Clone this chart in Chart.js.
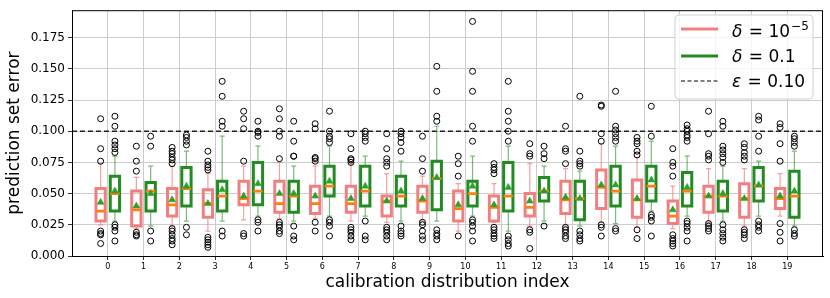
<!DOCTYPE html>
<html>
<head>
<meta charset="utf-8">
<script src="https://cdn.jsdelivr.net/npm/chart.js@4.4.0/dist/chart.umd.min.js"></script>
<style>
  html, body { margin: 0; padding: 0; background: #fff; }
  #wrap { width: 830px; height: 298px; position: relative; }
</style>
</head>
<body>
<div id="wrap"><canvas id="chart"></canvas></div>
<script>
const cats = [0, 1, 2, 3, 4, 5, 6, 7, 8, 9, 10, 11, 12, 13, 14, 15, 16, 17, 18, 19];
const yTicks = [0, 0.025, 0.05, 0.075, 0.1, 0.125, 0.15, 0.175];
const epsilon = 0.1;

// delta = 1e-5 (salmon)
const aQ1   = [.028, .024, .032, .031, .041, .035, .034, .035, .032, .035, .028, .028, .032, .034, .038, .031, .026, .035, .031, .038];
const aMed  = [.036, .037, .041, .042, .046, .042, .042, .042, .044, .044, .038, .039, .039, .045, .055, .045, .032, .048, .046, .046];
const aQ3   = [.054, .052, .054, .053, .060, .060, .056, .056, .048, .056, .052, .048, .050, .060, .069, .061, .044, .056, .058, .054];
const aLo   = [.025, .022, .024, .020, .029, .030, .030, .028, .027, .028, .020, .027, .024, .024, .027, .023, .022, .027, .024, .032];
const aHi   = [.074, .063, .072, .066, .072, .075, .072, .074, .066, .064, .058, .058, .074, .070, .090, .079, .056, .070, .070, .066];
const aMean = [.043, .040, .045, .042, .048, .050, .048, .046, .044, .046, .041, .041, .044, .047, .057, .046, .037, .048, .046, .048];
const aOut = [
  [.110, .086, .076, .020, .018, .017, .010],
  [.088, .076, .068, .019, .017, .016],
  [.087, .084, .082, .079, .077, .074, .022, .020, .017, .014, .012, .009],
  [.084, .076, .073, .071, .069, .015, .013, .011, .009, .007],
  [.116, .110, .102, .076, .018, .016],
  [.118, .110, .100, .096, .078, .027, .025, .023, .020, .018],
  [.106, .102, .079, .078, .076, .027, .020],
  [.098, .086, .078, .077, .075, .023, .021, .019, .016, .013],
  [.098, .086, .078, .075, .072, .023, .021, .019, .016, .013],
  [.096, .078, .068, .027, .025, .020, .016, .013],
  [.080, .074, .064, .016],
  [.074, .071, .069, .066, .023, .021, .018, .016, .014],
  [.090, .082, .080, .021, .019, .006],
  [.104, .086, .084, .074, .023, .021, .019, .016, .014],
  [.121, .120, .098, .092, .025, .023, .016],
  [.095, .092, .090, .084, .081, .021, .014],
  [.086, .075, .072, .064, .017, .014, .012, .010, .008],
  [.116, .098, .082, .080, .077, .026, .024, .022, .020],
  [.090, .087, .083, .080, .077, .021, .019, .017, .014],
  [.106, .103, .090, .076, .026, .019, .012]
];

// delta = 0.1 (green)
const bQ1   = [.036, .036, .040, .036, .041, .035, .048, .040, .040, .037, .040, .036, .044, .029, .040, .044, .040, .036, .044, .031];
const bMed  = [.050, .052, .054, .048, .052, .048, .056, .052, .048, .062, .050, .048, .052, .046, .052, .056, .052, .048, .056, .048];
const bQ3   = [.064, .059, .071, .060, .075, .060, .072, .072, .064, .076, .060, .075, .063, .060, .072, .072, .067, .060, .071, .068];
const bLo   = [.028, .024, .028, .028, .032, .028, .032, .032, .028, .028, .032, .020, .028, .024, .026, .036, .032, .028, .032, .024];
const bHi   = [.080, .072, .084, .096, .088, .072, .088, .080, .076, .104, .080, .088, .072, .068, .088, .092, .080, .072, .076, .084];
const bMean = [.052, .050, .056, .053, .058, .050, .060, .056, .052, .063, .056, .055, .052, .046, .057, .061, .055, .050, .057, .052];
const bOut = [
  [.112, .104, .092, .089, .086, .083, .025, .023, .020, .012],
  [.096, .088, .020, .012],
  [.097, .095, .092, .089, .023, .017],
  [.140, .128, .108, .104, .020, .016],
  [.108, .100, .099, .096, .029, .027, .020],
  [.108, .092, .080, .080, .024, .016, .013],
  [.116, .100, .096, .094, .091, .029, .027, .024, .016],
  [.100, .098, .095, .092, .028, .016, .013],
  [.100, .098, .095, .091, .084, .024, .020, .018, .016],
  [.152, .132, .112, .108, .021, .018, .016, .013],
  [.188, .148, .132, .104, .092, .029, .027, .024, .020, .012],
  [.140, .116, .108, .100, .092, .016, .013, .010, .008],
  [.088, .082, .078, .024],
  [.128, .084, .076, .074, .072, .020, .017, .014, .012],
  [.132, .104, .101, .098, .095, .092, .022, .020],
  [.120, .096, .033, .031, .028, .016],
  [.105, .102, .100, .097, .095, .092, .028, .026, .023, .020, .012],
  [.108, .104, .088, .085, .082, .079, .075, .025, .021, .018, .015, .012],
  [.112, .109, .096, .084, .028, .025, .023, .020],
  [.096, .094, .091, .088, .021, .018, .016]
];

const SALMON = '#f08080';
const GREEN = '#228b22';
const HALF = 0.13, CAP = 0.07, OFF = 0.2;

function boxPts(q1, q3, shift) {
  const pts = [];
  cats.forEach((c, i) => {
    const x = c + shift;
    pts.push({x: x - HALF, y: q1[i]}, {x: x + HALF, y: q1[i]}, {x: x + HALF, y: q3[i]},
             {x: x - HALF, y: q3[i]}, {x: x - HALF, y: q1[i]}, {x: x + HALF, y: q1[i]},
             {x: x, y: null});
  });
  return pts;
}

function whiskerPts(q1, q3, lo, hi, shift) {
  const pts = [];
  cats.forEach((c, i) => {
    const x = c + shift;
    pts.push({x, y: q3[i]}, {x, y: hi[i]}, {x, y: null},
             {x: x - CAP, y: hi[i]}, {x: x + CAP, y: hi[i]}, {x, y: null},
             {x, y: q1[i]}, {x, y: lo[i]}, {x, y: null},
             {x: x - CAP, y: lo[i]}, {x: x + CAP, y: lo[i]}, {x, y: null});
  });
  return pts;
}

function medianPts(med, shift) {
  const pts = [];
  cats.forEach((c, i) => {
    const x = c + shift;
    pts.push({x: x - HALF, y: med[i]}, {x: x + HALF, y: med[i]}, {x, y: null});
  });
  return pts;
}

const meanPts = (m, shift) => cats.map((c, i) => ({x: c + shift, y: m[i]}));
const outPts = (o, shift) => cats.flatMap((c, i) => o[i].map(v => ({x: c + shift, y: v})));

const lineDs = (data, color, width) => ({
  type: 'scatter', data, showLine: true, borderColor: color, borderWidth: width,
  pointRadius: 0, spanGaps: false, borderJoinStyle: 'miter', fill: false
});

// frame + in-axes legend
const extras = {
  id: 'extras',
  afterDraw(chart) {
    const ctx = chart.ctx;
    const a = chart.chartArea;
    ctx.save();
    ctx.strokeStyle = '#000';
    ctx.lineWidth = 1;
    ctx.strokeRect(a.left + 0.5, a.top + 0.5, a.right - a.left - 1, a.bottom - a.top);

    // legend box
    const L = 675, T = 15, R = 813, B = 99, r = 4;
    ctx.beginPath();
    ctx.moveTo(L + r, T); ctx.lineTo(R - r, T); ctx.quadraticCurveTo(R, T, R, T + r);
    ctx.lineTo(R, B - r); ctx.quadraticCurveTo(R, B, R - r, B);
    ctx.lineTo(L + r, B); ctx.quadraticCurveTo(L, B, L, B - r);
    ctx.lineTo(L, T + r); ctx.quadraticCurveTo(L, T, L + r, T);
    ctx.closePath();
    ctx.fillStyle = 'rgba(255,255,255,0.8)';
    ctx.fill();
    ctx.strokeStyle = '#d0d0d0';
    ctx.stroke();

    const rows = [29, 56, 81];
    ctx.lineCap = 'butt';
    ctx.setLineDash([]);
    ctx.lineWidth = 3;
    ctx.strokeStyle = SALMON;
    ctx.beginPath(); ctx.moveTo(681, rows[0]); ctx.lineTo(718, rows[0]); ctx.stroke();
    ctx.strokeStyle = GREEN;
    ctx.beginPath(); ctx.moveTo(681, rows[1]); ctx.lineTo(718, rows[1]); ctx.stroke();
    ctx.lineWidth = 1.2;
    ctx.strokeStyle = '#000';
    ctx.setLineDash([4, 2.5]);
    ctx.beginPath(); ctx.moveTo(681, rows[2]); ctx.lineTo(718, rows[2]); ctx.stroke();
    ctx.setLineDash([]);

    ctx.fillStyle = '#000';
    ctx.textBaseline = 'alphabetic';
    const ital = 'italic 17px "DejaVu Sans"';
    const reg = '17px "DejaVu Sans"';
    const sup = '12px "DejaVu Sans"';
    function piece(text, font, x, y) {
      ctx.font = font;
      ctx.fillText(text, x, y);
      return x + ctx.measureText(text).width;
    }
    let x = 732;
    x = piece('δ', ital, x, rows[0] + 8);
    x = piece(' = 10', reg, x + 1, rows[0] + 8);
    piece('−5', sup, x + 1, rows[0] + 1);

    x = 732;
    x = piece('δ', ital, x, rows[1] + 6);
    piece(' = 0.1', reg, x + 1, rows[1] + 6);

    x = 732;
    x = piece('ε', ital, x, rows[2] + 6);
    piece(' = 0.10', reg, x + 1, rows[2] + 6);
    ctx.restore();
  }
};

new Chart(document.getElementById('chart'), {
  type: 'scatter',
  data: {
    datasets: [
      {data: [...outPts(aOut, -OFF), ...outPts(bOut, OFF)], pointStyle: 'circle', pointRadius: 3,
       borderColor: '#000', borderWidth: 1, backgroundColor: 'rgba(0,0,0,0)'},
      {data: [...meanPts(aMean, -OFF), ...meanPts(bMean, OFF)], pointStyle: 'triangle', pointRadius: 4,
       borderColor: '#2ca02c', backgroundColor: '#2ca02c', borderWidth: 0.5},
      lineDs([...medianPts(aMed, -OFF), ...medianPts(bMed, OFF)], '#ff7f0e', 2.8),
      lineDs(boxPts(aQ1, aQ3, -OFF), SALMON, 3),
      lineDs(boxPts(bQ1, bQ3, OFF), GREEN, 3),
      lineDs(whiskerPts(aQ1, aQ3, aLo, aHi, -OFF), 'rgba(240,128,128,0.75)', 1.2),
      lineDs(whiskerPts(bQ1, bQ3, bLo, bHi, OFF), 'rgba(34,139,34,0.6)', 1.2),
      Object.assign(lineDs([{x: -1, y: epsilon}, {x: 20, y: epsilon}], '#222', 1.3), {borderDash: [5, 3]})
    ]
  },
  options: {
    responsive: true,
    maintainAspectRatio: false,
    animation: false,
    events: [],
    layout: {padding: {top: 6, right: 7, left: 0, bottom: 0}},
    plugins: {legend: {display: false}, tooltip: {enabled: false}},
    scales: {
      x: {
        type: 'linear', min: -1, max: 20,
        afterBuildTicks: s => { s.ticks = cats.map(v => ({value: v})); },
        afterFit: s => { s.height = 42; },
        ticks: {color: '#000', font: {family: 'DejaVu Sans', size: 8}, padding: 2, maxRotation: 0,
                callback: v => String(v)},
        grid: {color: '#cccccc', lineWidth: 1, tickColor: '#000', tickLength: 4, tickWidth: 0.8},
        border: {color: '#000', width: 1},
        title: {display: true, text: 'calibration distribution index', color: '#000',
                font: {family: 'DejaVu Sans', size: 17}, padding: {top: 5, bottom: 5}}
      },
      y: {
        min: 0, max: 0.197,
        afterBuildTicks: s => { s.ticks = yTicks.map(v => ({value: v})); },
        afterFit: s => { s.width = 72; },
        ticks: {color: '#000', font: {family: 'DejaVu Sans', size: 12}, padding: 3,
                callback: v => v.toFixed(3)},
        grid: {color: '#cccccc', lineWidth: 1, tickColor: '#000', tickLength: 4, tickWidth: 0.8},
        border: {color: '#000', width: 1},
        title: {display: true, text: 'prediction set error', color: '#000',
                font: {family: 'DejaVu Sans', size: 17}, padding: {top: 4, bottom: 4}}
      }
    }
  },
  plugins: [extras]
});
</script>
</body>
</html>
